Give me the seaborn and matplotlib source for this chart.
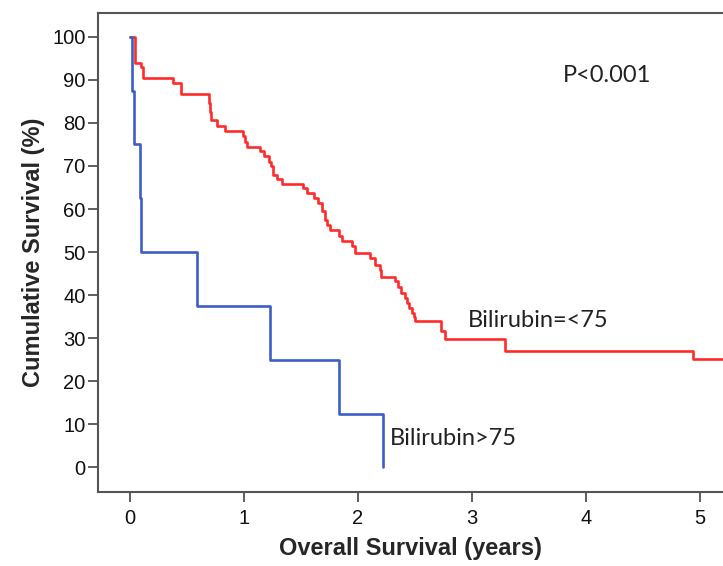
import numpy as np
import pandas as pd
import matplotlib
matplotlib.use("Agg")
import matplotlib.pyplot as plt
import seaborn as sns

# Kaplan-Meier step data (years, % surviving)
low_times = [0, 0.044, 0.094, 0.111, 0.375, 0.445, 0.69, 0.70, 0.715, 0.76, 0.833,
             0.994, 1.01, 1.024, 1.14, 1.18, 1.22, 1.235, 1.257, 1.287, 1.33,
             1.52, 1.55, 1.61, 1.65, 1.68, 1.71, 1.73, 1.75, 1.83, 1.857,
             1.945, 1.97, 2.105, 2.15, 2.19, 2.20, 2.32, 2.35, 2.38, 2.41,
             2.43, 2.45, 2.47, 2.49, 2.50, 2.73, 2.76, 3.29, 4.94, 5.3]
low_surv = [100, 93.9, 93.0, 90.3, 89.2, 86.7, 84.5, 82.5, 80.6, 79.2, 78.0,
            76.9, 75.6, 74.4, 73.4, 72.2, 71.0, 69.9, 68.0, 67.0, 65.9,
            64.9, 63.7, 62.6, 61.4, 59.5, 57.5, 56.3, 55.2, 53.7, 52.5,
            51.3, 49.8, 48.6, 47.1, 45.8, 44.3, 43.2, 42.0, 40.5, 39.3,
            38.2, 37.0, 35.9, 34.9, 33.9, 31.6, 29.8, 27.1, 25.2, 25.2]

high_times = [0, 0.02, 0.04, 0.087, 0.095, 0.585, 1.23, 1.83, 2.22]
high_surv = [100, 87.5, 75, 62.5, 50, 37.5, 25, 12.5, 0]

x_ticks = [0, 1, 2, 3, 4, 5]
y_ticks = [0, 10, 20, 30, 40, 50, 60, 70, 80, 90, 100]

df_low = pd.DataFrame({"time": low_times, "surv": low_surv})
df_high = pd.DataFrame({"time": high_times, "surv": high_surv})

sns.set_style("white")
plt.rcParams["font.family"] = ["Liberation Sans", "DejaVu Sans"]

fig = plt.figure(figsize=(7.23, 5.66), dpi=100)
ax = fig.add_axes([0.1355, 0.1307, 0.8645, 0.8463])

sns.lineplot(data=df_low, x="time", y="surv", drawstyle="steps-post",
             estimator=None, sort=False, color="#ff2b2b", linewidth=1.9, ax=ax)
sns.lineplot(data=df_high, x="time", y="surv", drawstyle="steps-post",
             estimator=None, sort=False, color="#3d5ec6", linewidth=1.9, ax=ax)

ax.set_xlim(-0.28, 5.2)
ax.set_ylim(-5.7, 105.5)
ax.set_xticks(x_ticks)
ax.set_yticks(y_ticks)
ax.tick_params(axis="both", direction="out", length=7, width=1.2,
               bottom=True, left=True, top=False, right=False,
               color="#444444", labelsize=14.5, labelcolor="#111111", pad=2)
ax.tick_params(axis="x", pad=5)
for side in ["left", "bottom", "top"]:
    ax.spines[side].set_color("#555555")
    ax.spines[side].set_linewidth(1.5)
ax.spines["right"].set_visible(False)

ax.set_xlabel("Overall Survival (years)", fontsize=17, fontweight="bold", labelpad=7)
ax.set_ylabel("Cumulative Survival (%)", fontsize=17, fontweight="bold", labelpad=5)

note_font = ["Lato", "DejaVu Sans"]
ax.text(4.18, 91, "P<0.001", fontsize=17, family=note_font, ha="center", va="center", color="#222222")
ax.text(2.96, 34.2, "Bilirubin=<75", fontsize=17, family=note_font, ha="left", va="center", color="#222222")
ax.text(2.28, 6.8, "Bilirubin>75", fontsize=17, family=note_font, ha="left", va="center", color="#222222")

fig.savefig("out.png", dpi=100)
